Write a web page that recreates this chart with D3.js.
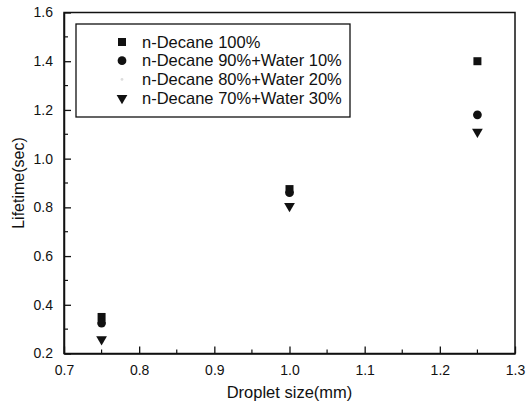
<!DOCTYPE html>
<html>
<head>
<meta charset="utf-8">
<script src="https://cdnjs.cloudflare.com/ajax/libs/d3/7.8.5/d3.min.js"></script>
<style>
  body { margin: 0; background: #fff; }
  text { font-family: "Liberation Sans", Arial, sans-serif; fill: #111; }
</style>
</head>
<body>
<script>
const w = 532;
const h = 404;
const margin = { left: 64, right: 17, top: 12.5, bottom: 50.5 };

// data
const sizes = [0.75, 1.0, 1.25];
const decane100 = [0.35, 0.875, 1.40];
const decane90 = [0.325, 0.86, 1.18];
const decane80 = [0.335, 0.85, 1.17];
const decane70 = [0.258, 0.805, 1.11];
const seriesNames = ["n-Decane 100%", "n-Decane 90%+Water 10%", "n-Decane 80%+Water 20%", "n-Decane 70%+Water 30%"];
const xTicks = [0.7, 0.8, 0.9, 1.0, 1.1, 1.2, 1.3];
const yTicks = [0.2, 0.4, 0.6, 0.8, 1.0, 1.2, 1.4, 1.6];

const series = [
  { name: seriesNames[0], values: decane100, shape: d3.symbolSquare, size: 64, color: "#111", order: 1 },
  { name: seriesNames[1], values: decane90, shape: d3.symbolCircle, size: 60, color: "#111", order: 2 },
  { name: seriesNames[2], values: decane80, shape: d3.symbolCircle, size: 6, color: "#ddd", order: 0 },
  { name: seriesNames[3], values: decane70, shape: d3.symbolTriangle, size: 50, color: "#111", flip: true, order: 3 }
];

const svg = d3.select("body").append("svg").attr("width", w).attr("height", h);

const xScale = d3.scaleLinear().domain([0.7, 1.3]).range([margin.left, w - margin.right]);
const yScale = d3.scaleLinear().domain([0.2, 1.6]).range([h - margin.bottom, margin.top]);

// frame
svg.append("rect")
  .attr("x", xScale(0.7)).attr("y", yScale(1.6))
  .attr("width", xScale(1.3) - xScale(0.7)).attr("height", yScale(0.2) - yScale(1.6))
  .attr("fill", "none").attr("stroke", "#111").attr("stroke-width", 1.5);

// axes (ticks point inward)
const xAxis = d3.axisBottom(xScale).tickValues(xTicks).tickFormat(d3.format(".1f")).tickSizeInner(-7).tickSizeOuter(0).tickPadding(12);
const yAxis = d3.axisLeft(yScale).tickValues(yTicks).tickFormat(d3.format(".1f")).tickSizeInner(-7).tickSizeOuter(0).tickPadding(11);

const gx = svg.append("g").attr("transform", "translate(0," + yScale(0.2) + ")").call(xAxis);
const gy = svg.append("g").attr("transform", "translate(" + xScale(0.7) + ",0)").call(yAxis);
[gx, gy].forEach(g => {
  g.select(".domain").attr("stroke", "#111").attr("stroke-width", 1.5);
  g.selectAll(".tick line").attr("stroke", "#111").attr("stroke-width", 1.3);
  g.selectAll(".tick text").style("font-size", "14px").attr("fill", "#111");
});

// minor ticks
const xMinor = d3.range(0.75, 1.3, 0.1);
const yMinor = d3.range(0.3, 1.6, 0.2);
svg.append("g").selectAll("line").data(xMinor).enter().append("line")
  .attr("x1", d => xScale(d)).attr("x2", d => xScale(d))
  .attr("y1", yScale(0.2)).attr("y2", yScale(0.2) - 4)
  .attr("stroke", "#111").attr("stroke-width", 1.2);
svg.append("g").selectAll("line").data(yMinor).enter().append("line")
  .attr("x1", xScale(0.7)).attr("x2", xScale(0.7) + 4)
  .attr("y1", d => yScale(d)).attr("y2", d => yScale(d))
  .attr("stroke", "#111").attr("stroke-width", 1.2);

// points (faint series drawn first, underneath)
series.slice().sort((a, b) => a.order - b.order).forEach(s => {
  svg.append("g").selectAll("path").data(s.values).enter().append("path")
    .attr("d", d3.symbol().type(s.shape).size(s.size))
    .attr("transform", (d, i) => "translate(" + xScale(sizes[i]) + "," + yScale(d) + ")" + (s.flip ? " rotate(180)" : ""))
    .attr("fill", s.color);
});

// legend
const legend = svg.append("g");
legend.append("rect")
  .attr("x", 76).attr("y", 24).attr("width", 274).attr("height", 93)
  .attr("fill", "#fff").attr("stroke", "#111").attr("stroke-width", 1.3);
series.forEach((s, i) => {
  const y = 42 + i * 18.7;
  legend.append("path")
    .attr("d", d3.symbol().type(s.shape).size(s.size))
    .attr("transform", "translate(122," + y + ")" + (s.flip ? " rotate(180)" : ""))
    .attr("fill", s.color);
  legend.append("text")
    .attr("x", 142).attr("y", y).attr("dy", "0.35em")
    .style("font-size", "16.5px")
    .text(s.name);
});

// axis labels
svg.append("text")
  .attr("x", (xScale(0.7) + xScale(1.3)) / 2).attr("y", 398)
  .attr("text-anchor", "middle")
  .style("font-size", "16.5px")
  .text("Droplet size(mm)");

svg.append("text")
  .attr("transform", "translate(24," + ((yScale(0.2) + yScale(1.6)) / 2) + ") rotate(-90)")
  .attr("text-anchor", "middle")
  .style("font-size", "16px")
  .text("Lifetime(sec)");
</script>
</body>
</html>
